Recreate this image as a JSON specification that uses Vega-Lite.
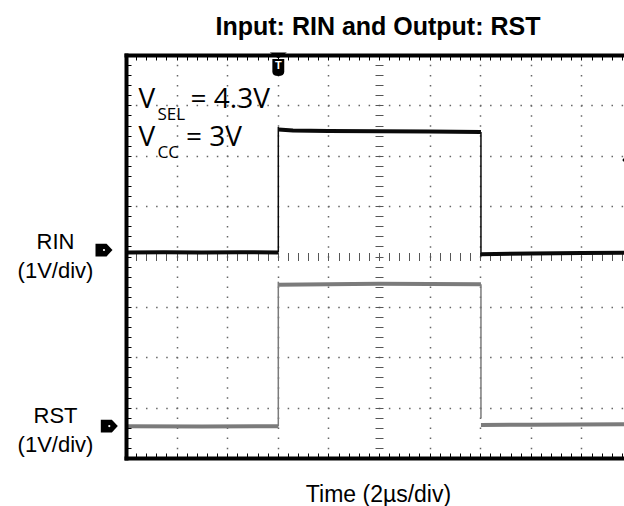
{
  "$schema": "https://vega.github.io/schema/vega-lite/v6.json",
  "width": 498,
  "height": 403,
  "autosize": {"type": "none"},
  "padding": {"left": 126, "top": 55, "right": 0, "bottom": 48},
  "background": "white",
  "config": {
    "view": {"stroke": null},
    "axis": {"labelFont": "Liberation Sans", "titleFont": "Liberation Sans"}
  },
  "title": {
    "text": "Input: RIN and Output: RST",
    "font": "Liberation Sans",
    "fontSize": 25,
    "fontWeight": "bold",
    "color": "#000",
    "anchor": "middle",
    "frame": "group",
    "baseline": "alphabetic",
    "offset": -7,
    "dx": 3
  },
  "datasets": {
    "traces": [
      {"ch": "RIN", "seg": "r1", "kind": "flat", "t": -6, "y": 0.08},
      {"ch": "RIN", "seg": "r1", "kind": "flat", "t": -4.5, "y": 0.085},
      {"ch": "RIN", "seg": "r1", "kind": "flat", "t": -3, "y": 0.08},
      {"ch": "RIN", "seg": "r1", "kind": "flat", "t": -1.5, "y": 0.085},
      {"ch": "RIN", "seg": "r1", "kind": "flat", "t": 0.02, "y": 0.08},
      {"ch": "RIN", "seg": "r2", "kind": "edge", "t": 0.02, "y": 0.08},
      {"ch": "RIN", "seg": "r2", "kind": "edge", "t": 0.02, "y": 2.57},
      {"ch": "RIN", "seg": "r3", "kind": "flat", "t": 0.02, "y": 2.52},
      {"ch": "RIN", "seg": "r3", "kind": "flat", "t": 0.6, "y": 2.5},
      {"ch": "RIN", "seg": "r3", "kind": "flat", "t": 2, "y": 2.49},
      {"ch": "RIN", "seg": "r3", "kind": "flat", "t": 4, "y": 2.485},
      {"ch": "RIN", "seg": "r3", "kind": "flat", "t": 6, "y": 2.48},
      {"ch": "RIN", "seg": "r3", "kind": "flat", "t": 8.03, "y": 2.47},
      {"ch": "RIN", "seg": "r4", "kind": "edge", "t": 8.03, "y": 2.47},
      {"ch": "RIN", "seg": "r4", "kind": "edge", "t": 8.03, "y": 0.0},
      {"ch": "RIN", "seg": "r5", "kind": "flat", "t": 8.03, "y": 0.045},
      {"ch": "RIN", "seg": "r5", "kind": "flat", "t": 10, "y": 0.06},
      {"ch": "RIN", "seg": "r5", "kind": "flat", "t": 12, "y": 0.07},
      {"ch": "RIN", "seg": "r5", "kind": "flat", "t": 13.684, "y": 0.075},
      {"ch": "RST", "seg": "s1", "kind": "flat", "t": -6, "y": -3.37},
      {"ch": "RST", "seg": "s1", "kind": "flat", "t": -3, "y": -3.375},
      {"ch": "RST", "seg": "s1", "kind": "flat", "t": 0.02, "y": -3.37},
      {"ch": "RST", "seg": "s2", "kind": "edge", "t": 0.02, "y": -3.37},
      {"ch": "RST", "seg": "s2", "kind": "edge", "t": 0.02, "y": -0.5},
      {"ch": "RST", "seg": "s3", "kind": "flat", "t": 0.02, "y": -0.56},
      {"ch": "RST", "seg": "s3", "kind": "flat", "t": 2, "y": -0.55},
      {"ch": "RST", "seg": "s3", "kind": "flat", "t": 4, "y": -0.54},
      {"ch": "RST", "seg": "s3", "kind": "flat", "t": 6, "y": -0.545},
      {"ch": "RST", "seg": "s3", "kind": "flat", "t": 8.03, "y": -0.55},
      {"ch": "RST", "seg": "s4", "kind": "edge", "t": 8.03, "y": -0.55},
      {"ch": "RST", "seg": "s4", "kind": "edge", "t": 8.03, "y": -3.21},
      {"ch": "RST", "seg": "s5", "kind": "flat", "t": 8.03, "y": -3.345},
      {"ch": "RST", "seg": "s5", "kind": "flat", "t": 10, "y": -3.34},
      {"ch": "RST", "seg": "s5", "kind": "flat", "t": 13.684, "y": -3.33}
    ],
    "markers": [
      {"kind": "channel", "label": "RIN", "t": -6.87, "y": 0.129},
      {"kind": "channel", "label": "RST", "t": -6.66, "y": -3.365},
      {"kind": "level", "label": "trigger level", "t": 13.95, "y": 1.916},
      {"kind": "trigger", "label": "trigger", "t": 0.02, "y": 3.99},
      {"kind": "badge", "label": "T", "t": 0.02, "y": 3.752}
    ],
    "notes": [
      {"role": "main", "text": "V", "t": -5.506, "y": 2.948},
      {"role": "sub", "text": "SEL", "t": -4.755, "y": 2.71},
      {"role": "main", "text": "= 4.3V", "t": -3.451, "y": 2.948},
      {"role": "main", "text": "V", "t": -5.506, "y": 2.2},
      {"role": "sub", "text": "CC", "t": -4.755, "y": 1.955},
      {"role": "main", "text": "= 3V", "t": -3.628, "y": 2.2}
    ]
  },
  "resolve": {"axis": {"x": "independent", "y": "independent"}},
  "layer": [
    {
      "mark": {"type": "rule", "color": "#b8b8b8", "strokeWidth": 1},
      "encoding": {
        "x": {
          "datum": 4, "type": "quantitative",
          "scale": {"domain": [-6, 13.684], "nice": false},
          "axis": {
            "orient": "bottom", "offset": -205.5, "tickSize": 8, "tickColor": "#555", "tickWidth": 1,
            "domain": false, "labels": false, "grid": false, "title": null,
            "values": [-6,-5.6,-5.2,-4.8,-4.4,-4,-3.6,-3.2,-2.8,-2.4,-2,-1.6,-1.2,-0.8,-0.4,0,0.4,0.8,1.2,1.6,2,2.4,2.8,3.2,3.6,4,4.4,4.8,5.2,5.6,6,6.4,6.8,7.2,7.6,8,8.4,8.8,9.2,9.6,10,10.4,10.8,11.2,11.6,12,12.4,12.8,13.2,13.6]
          }
        }
      }
    },
    {
      "mark": {"type": "rule", "color": "#b8b8b8", "strokeWidth": 1},
      "encoding": {
        "y": {
          "datum": 0, "type": "quantitative",
          "scale": {"domain": [-4, 4], "nice": false},
          "axis": {
            "orient": "left", "offset": -257, "tickSize": 8, "tickColor": "#555", "tickWidth": 1,
            "domain": false, "labels": false, "grid": false, "title": null,
            "values": [-4,-3.8,-3.6,-3.4,-3.2,-3,-2.8,-2.6,-2.4,-2.2,-2,-1.8,-1.6,-1.4,-1.2,-1,-0.8,-0.6,-0.4,-0.2,0,0.2,0.4,0.6,0.8,1,1.2,1.4,1.6,1.8,2,2.2,2.4,2.6,2.8,3,3.2,3.4,3.6,3.8,4]
          }
        }
      }
    },
    {
      "data": {"name": "markers"},
      "mark": {"type": "point", "filled": true, "color": "#000", "opacity": 1, "strokeWidth": 0},
      "encoding": {
        "x": {
          "field": "t", "type": "quantitative",
          "scale": {"domain": [-6, 13.684], "nice": false},
          "axis": {
            "orient": "bottom", "values": [-4, -2, 0, 2, 6, 8, 10, 12],
            "grid": true, "gridColor": "#666", "gridWidth": 1.5, "gridDash": [1.5, 8.575], "gridDashOffset": 0.75,
            "ticks": false, "labels": false, "domain": false, "title": null, "zindex": 0
          }
        },
        "y": {
          "field": "y", "type": "quantitative",
          "scale": {"domain": [-4, 4], "nice": false},
          "axis": {
            "orient": "left", "values": [-3, -2, -1, 1, 2, 3],
            "grid": true, "gridColor": "#666", "gridWidth": 1.5, "gridDash": [1.5, 8.62], "gridDashOffset": 0.75,
            "ticks": false, "labels": false, "domain": false, "title": null, "zindex": 0
          }
        },
        "shape": {
          "field": "kind", "type": "nominal", "legend": null,
          "scale": {
            "domain": ["channel", "level", "trigger", "badge"],
            "range": [
              "M -1 -0.75 L 0.3 -0.75 L 1 0 L 0.3 0.75 L -1 0.75 Z",
              "M 1 -0.75 L -0.3 -0.75 L -1 0 L -0.3 0.75 L 1 0.75 Z",
              "M -1 -0.35 L 1 -0.35 L 0 0.35 Z",
              "M -0.7 -1 L 0.7 -1 L 0.7 0.5 Q 0.7 1 0 1 Q -0.7 1 -0.7 0.5 Z"
            ]
          }
        },
        "size": {
          "field": "kind", "type": "nominal", "legend": null,
          "scale": {"domain": ["channel", "level", "trigger", "badge"], "range": [289, 289, 144, 225]}
        }
      }
    },
    {
      "data": {"name": "markers"},
      "transform": [{"filter": "datum.kind == 'channel'"}],
      "mark": {"type": "point", "filled": true, "color": "#fff", "opacity": 1, "shape": "circle", "size": 5, "strokeWidth": 0},
      "encoding": {
        "x": {"field": "t", "type": "quantitative", "scale": {"domain": [-6, 13.684], "nice": false}, "axis": null},
        "y": {"field": "y", "type": "quantitative", "scale": {"domain": [-4, 4], "nice": false}, "axis": null}
      }
    },
    {
      "data": {"name": "markers"},
      "transform": [{"filter": "datum.kind == 'badge'"}],
      "mark": {"type": "text", "text": "T", "color": "#fff", "font": "Liberation Sans", "fontWeight": "bold", "fontSize": 11, "align": "center", "baseline": "middle", "dy": -1},
      "encoding": {
        "x": {"field": "t", "type": "quantitative", "scale": {"domain": [-6, 13.684], "nice": false}, "axis": null},
        "y": {"field": "y", "type": "quantitative", "scale": {"domain": [-4, 4], "nice": false}, "axis": null}
      }
    },
    {
      "data": {"name": "traces"},
      "mark": {"type": "line", "strokeCap": "butt", "strokeJoin": "miter"},
      "encoding": {
        "x": {
          "field": "t", "type": "quantitative",
          "scale": {"domain": [-6, 13.684], "nice": false},
          "axis": {
            "orient": "bottom", "labels": false, "tickSize": -5, "tickColor": "#000", "tickWidth": 1,
            "domainColor": "#000", "domainWidth": 4, "domainCap": "square", "grid": false,
            "title": "Time (2µs/div)", "titleFont": "Liberation Sans", "titleFontSize": 23, "titleFontWeight": "normal",
            "titleColor": "#000", "titleBaseline": "alphabetic", "titlePadding": 43, "titleX": 252, "zindex": 1,
            "values": [-6,-5.6,-5.2,-4.8,-4.4,-4,-3.6,-3.2,-2.8,-2.4,-2,-1.6,-1.2,-0.8,-0.4,0,0.4,0.8,1.2,1.6,2,2.4,2.8,3.2,3.6,4,4.4,4.8,5.2,5.6,6,6.4,6.8,7.2,7.6,8,8.4,8.8,9.2,9.6,10,10.4,10.8,11.2,11.6,12,12.4,12.8,13.2,13.6]
          }
        },
        "y": {
          "field": "y", "type": "quantitative",
          "scale": {"domain": [-4, 4], "nice": false},
          "axis": {
            "orient": "left", "labels": false, "tickSize": -5, "tickColor": "#000", "tickWidth": 1,
            "domainColor": "#000", "domainWidth": 4, "domainCap": "square", "grid": false, "title": null, "zindex": 1,
            "values": [-4,-3.8,-3.6,-3.4,-3.2,-3,-2.8,-2.6,-2.4,-2.2,-2,-1.8,-1.6,-1.4,-1.2,-1,-0.8,-0.6,-0.4,-0.2,0,0.2,0.4,0.6,0.8,1,1.2,1.4,1.6,1.8,2,2.2,2.4,2.6,2.8,3,3.2,3.4,3.6,3.8,4]
          }
        },
        "detail": {"field": "seg", "type": "nominal"},
        "color": {
          "field": "ch", "type": "nominal", "legend": null,
          "scale": {"domain": ["RIN", "RST"], "range": ["#0a0a0a", "#7b7b7b"]}
        },
        "strokeWidth": {
          "field": "kind", "type": "nominal", "legend": null,
          "scale": {"domain": ["flat", "edge"], "range": [4, 1.5]}
        }
      }
    },
    {
      "data": {"name": "notes"},
      "transform": [{"filter": "datum.role == 'main'"}],
      "mark": {"type": "text", "font": "Open Sans", "fontSize": 28, "color": "#000", "align": "left", "baseline": "alphabetic"},
      "encoding": {
        "x": {
          "field": "t", "type": "quantitative",
          "scale": {"domain": [-6, 13.684], "nice": false},
          "axis": {
            "orient": "top", "labels": false, "tickSize": -5, "tickColor": "#000", "tickWidth": 1,
            "domainColor": "#000", "domainWidth": 4, "domainCap": "square", "grid": false, "title": null, "zindex": 1,
            "values": [-6,-5.6,-5.2,-4.8,-4.4,-4,-3.6,-3.2,-2.8,-2.4,-2,-1.6,-1.2,-0.8,-0.4,0,0.4,0.8,1.2,1.6,2,2.4,2.8,3.2,3.6,4,4.4,4.8,5.2,5.6,6,6.4,6.8,7.2,7.6,8,8.4,8.8,9.2,9.6,10,10.4,10.8,11.2,11.6,12,12.4,12.8,13.2,13.6]
          }
        },
        "y": {
          "field": "y", "type": "quantitative",
          "scale": {"domain": [-4, 4], "nice": false},
          "axis": {
            "orient": "left", "values": [0.298, -3.156], "ticks": false, "tickSize": 0, "domain": false, "grid": false,
            "labelExpr": "datum.value > -1 ? ['RIN', '(1V/div)'] : ['RST', '(1V/div)']",
            "labelFont": "Liberation Sans", "labelFontSize": 22, "labelColor": "#000",
            "labelAlign": "center", "labelBaseline": "middle", "labelLineHeight": 29.5,
            "labelPadding": 71, "labelOverlap": false, "labelFlush": false, "title": null
          }
        },
        "text": {"field": "text", "type": "nominal"}
      }
    },
    {
      "data": {"name": "notes"},
      "transform": [{"filter": "datum.role == 'sub'"}],
      "mark": {"type": "text", "font": "Open Sans", "fontSize": 17, "color": "#000", "align": "left", "baseline": "alphabetic"},
      "encoding": {
        "x": {"field": "t", "type": "quantitative", "scale": {"domain": [-6, 13.684], "nice": false}, "axis": null},
        "y": {"field": "y", "type": "quantitative", "scale": {"domain": [-4, 4], "nice": false}, "axis": null},
        "text": {"field": "text", "type": "nominal"}
      }
    }
  ]
}
